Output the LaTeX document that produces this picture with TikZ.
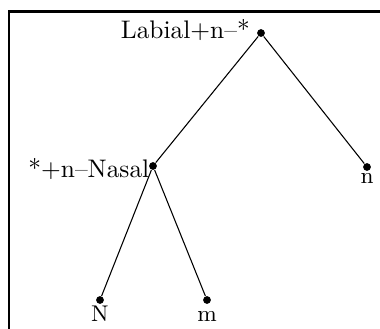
\documentclass[tikz,border=0pt]{standalone}
\usetikzlibrary{positioning}

\begin{document}
\begin{tikzpicture}[
    x=0.3737pt, y=-0.3737pt,
    dot/.style={circle, fill, inner sep=0pt, minimum size=2.9pt},
    lab/.style={font=\fontsize{9.5}{11}\selectfont, inner sep=1pt},
    leaf/.style={font=\fontsize{8.5}{10}\selectfont, inner sep=1pt},
    edge/.style={line width=0.4pt},
    frame/.style={line width=1pt},
]
    \useasboundingbox (0,0) rectangle (380,328);
    % ---------- frame ----------
    \draw[frame] (9,340) -- (9,11.5) -- (390,11.5);

    % ---------- tree points ----------
    \node[dot] (root)  at (261,33)  {};
    \node[dot] (nasal) at (153,166) {};
    \node[dot] (nn)    at (367,167) {};
    \node[dot] (bigN)  at (100,300) {};
    \node[dot] (mm)    at (207,300) {};

    % ---------- labels ----------
    \node[lab, anchor=base east] (rootlab)  at (253,38.5) {Labial+n--*};
    \node[lab, anchor=base east] (nasallab) at (152.5,177.5) {*+n--Nasal};
    \node[leaf, anchor=base] (nnlab)   at (367,183.5) {n};
    \node[leaf, anchor=base] (bigNlab) at (100,321.5) {N};
    \node[leaf, anchor=base] (mmlab)   at (207,321.5) {m};

    % ---------- branches ----------
    \draw[edge] (root) -- (nasal);
    \draw[edge] (root) -- (nn);
    \draw[edge] (nasal) -- (bigN);
    \draw[edge] (nasal) -- (mm);
\end{tikzpicture}
\end{document}
